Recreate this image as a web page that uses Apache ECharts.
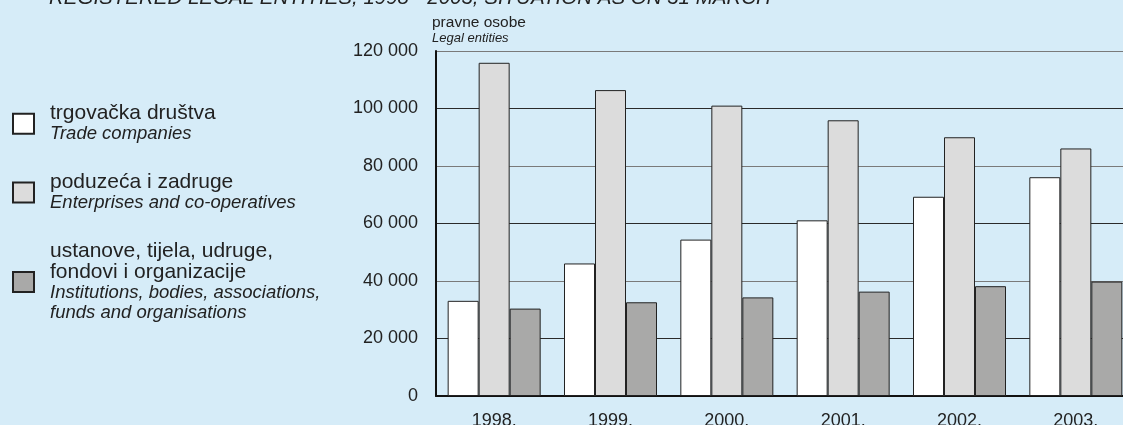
<!DOCTYPE html>
<html>
<head>
<meta charset="utf-8">
<script src="https://cdn.jsdelivr.net/npm/echarts@6/dist/echarts.min.js"></script>
<style>
  html, body { margin: 0; padding: 0; background: #d6ecf8; }
  #chart { width: 1123px; height: 425px; }
</style>
</head>
<body>
<div id="chart"></div>
<script>
// podaci (stanje 31. ožujka)
const years = ["1998.", "1999.", "2000.", "2001.", "2002.", "2003."];
const tradeCompanies = [33100, 46100, 54400, 61100, 69300, 76100];
const enterprises = [115900, 106400, 101000, 95900, 90000, 86100];
const institutions = [30400, 32600, 34300, 36300, 38200, 39800];

const FONT = "'Liberation Sans', Arial, Helvetica, sans-serif";
const TEXT = "#222";

const chart = echarts.init(document.getElementById("chart"));

const legendRich = {
  a: { fontSize: 21, lineHeight: 21, color: TEXT, fontFamily: FONT },
  b: { fontSize: 18.5, lineHeight: 20.5, color: TEXT, fontStyle: "italic", fontFamily: FONT }
};

const barStyle = color => ({
  color: color,
  borderColor: "#222",
  borderWidth: 1
});

const names = [
  "{a|trgovačka društva}\n{b|Trade companies}",
  "{a|poduzeća i zadruge}\n{b|Enterprises and co-operatives}",
  "{a|ustanove, tijela, udruge,}\n{a|fondovi i organizacije}\n{b|Institutions, bodies, associations,}\n{b|funds and organisations}"
];

chart.setOption({
  backgroundColor: "#d6ecf8",
  animation: false,
  textStyle: { fontFamily: FONT },
  title: {
    text: "REGISTERED LEGAL ENTITIES, 1998 - 2003, SITUATION AS ON 31 MARCH",
    left: 44,
    top: -17,
    textStyle: {
      fontSize: 20.5,
      fontWeight: "normal",
      fontStyle: "italic",
      color: TEXT,
      fontFamily: FONT
    }
  },
  legend: {
    orient: "vertical",
    left: 12,
    top: 103,
    padding: 0,
    itemWidth: 21,
    itemHeight: 20,
    itemGap: 28,
    icon: "rect",
    selectedMode: false,
    textStyle: { rich: legendRich, padding: [0, 0, 0, 11] },
    data: names.map(n => ({ name: n }))
  },
  grid: {
    left: 436,
    top: 51,
    width: 698,
    height: 345,
    outerBoundsMode: "none"
  },
  xAxis: {
    type: "category",
    data: years,
    axisTick: { show: false },
    axisLine: { lineStyle: { color: "#111", width: 2 } },
    axisLabel: { fontSize: 18, color: TEXT, margin: 16, fontFamily: FONT }
  },
  yAxis: {
    type: "value",
    min: 0,
    max: 120000,
    interval: 20000,
    name: "{a|pravne osobe}\n{b|Legal entities}",
    nameLocation: "end",
    nameGap: 5,
    nameTextStyle: {
      align: "left",
      verticalAlign: "bottom",
      padding: [0, 0, 0, -4],
      rich: {
        a: { fontSize: 15.5, lineHeight: 17, color: TEXT, fontFamily: FONT },
        b: { fontSize: 13, lineHeight: 15, color: TEXT, fontStyle: "italic", fontFamily: FONT }
      }
    },
    axisLine: { show: true, lineStyle: { color: "#111", width: 2 } },
    axisTick: { show: false },
    axisLabel: {
      fontSize: 18,
      color: TEXT,
      margin: 18,
      fontFamily: FONT,
      formatter: v => String(v).replace(/\B(?=(\d{3})+(?!\d))/g, " ")
    },
    splitLine: {
      show: true,
      lineStyle: { color: ["#7a7a7a", "#2a2a2a"], width: 1 }
    }
  },
  series: [
    {
      name: names[0],
      type: "bar",
      barWidth: 31,
      barGap: "0%",
      data: tradeCompanies,
      itemStyle: barStyle("#ffffff")
    },
    {
      name: names[1],
      type: "bar",
      barWidth: 31,
      barGap: "0%",
      data: enterprises,
      itemStyle: barStyle("#dcdcdc")
    },
    {
      name: names[2],
      type: "bar",
      barWidth: 31,
      barGap: "0%",
      data: institutions,
      itemStyle: barStyle("#a9a9a8")
    }
  ]
});
</script>
</body>
</html>
